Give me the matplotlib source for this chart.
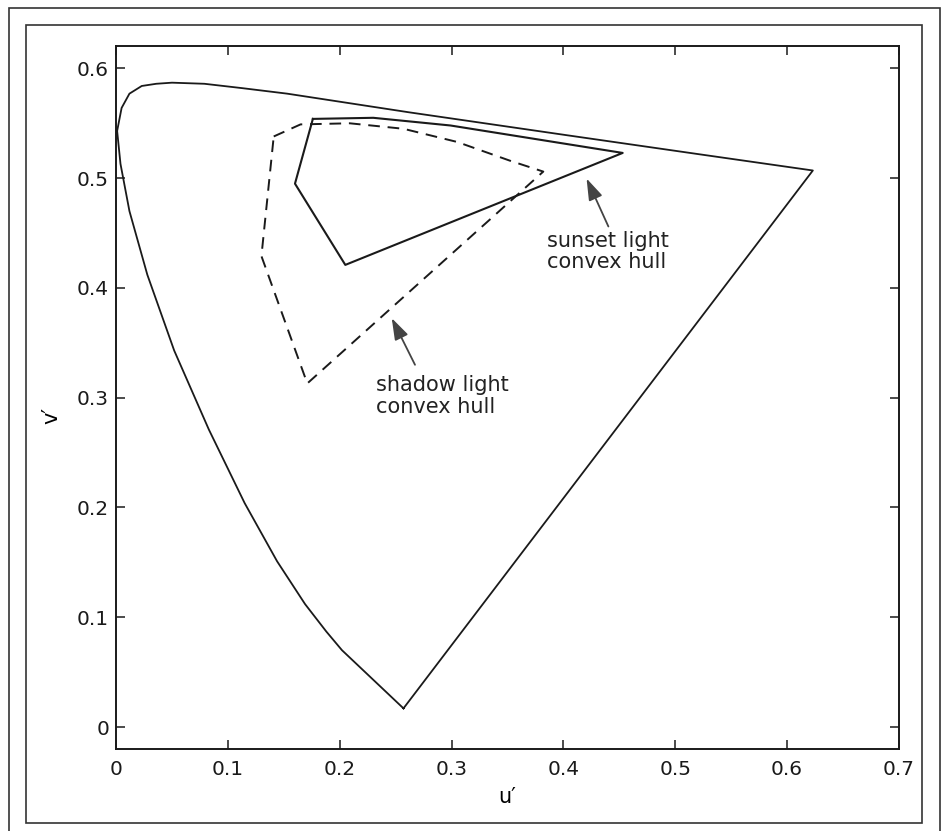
import matplotlib
matplotlib.use("Agg")
import matplotlib.pyplot as plt
from matplotlib.patches import Rectangle

# spectral locus (u', v'), blue end -> red end
locus_u = [0.257, 0.202, 0.188, 0.169, 0.144, 0.115, 0.083, 0.052, 0.028, 0.012,
           0.004, 0.001, 0.005, 0.012, 0.023, 0.036, 0.050, 0.079, 0.113, 0.153,
           0.262, 0.404, 0.520, 0.623]
locus_v = [0.017, 0.070, 0.087, 0.112, 0.151, 0.204, 0.271, 0.343, 0.412, 0.470,
           0.513, 0.543, 0.564, 0.577, 0.584, 0.586, 0.587, 0.586, 0.582, 0.577,
           0.560, 0.539, 0.522, 0.507]

# sunset light convex hull (solid)
sunset_u = [0.176, 0.230, 0.299, 0.453, 0.205, 0.160]
sunset_v = [0.554, 0.555, 0.548, 0.523, 0.421, 0.495]

# shadow light convex hull (dashed)
shadow_u = [0.141, 0.165, 0.209, 0.257, 0.305, 0.352, 0.382, 0.171, 0.130]
shadow_v = [0.538, 0.549, 0.550, 0.545, 0.533, 0.516, 0.506, 0.313, 0.429]

xticks = [0, 0.1, 0.2, 0.3, 0.4, 0.5, 0.6, 0.7]
yticks = [0, 0.1, 0.2, 0.3, 0.4, 0.5, 0.6]


def closed(xs, ys):
    return xs + xs[:1], ys + ys[:1]


fig = plt.figure(figsize=(9.44, 8.31), dpi=100)
ax = fig.add_axes([0.1229, 0.0987, 0.8294, 0.8454])

lu, lv = closed(locus_u, locus_v)
ax.plot(lu, lv, color="#1a1a1a", lw=1.3)

su, sv = closed(sunset_u, sunset_v)
ax.plot(su, sv, color="#1a1a1a", lw=1.5)

hu, hv = closed(shadow_u, shadow_v)
ax.plot(hu, hv, color="#1a1a1a", lw=1.4, dashes=[6, 4])

arrow = dict(arrowstyle="-|>,head_length=0.6,head_width=0.2", color="#444444",
             lw=1.3, mutation_scale=22, shrinkA=0, shrinkB=0)
ax.annotate("", xy=(0.4207, 0.4997), xytext=(0.4402, 0.456), arrowprops=arrow)
ax.annotate("", xy=(0.2465, 0.3725), xytext=(0.2673, 0.330), arrowprops=arrow)

ax.text(0.385, 0.4332, "sunset light\nconvex hull", fontsize=15, ha="left",
        va="center", linespacing=1.1, color="#222222")
ax.text(0.2324, 0.3014, "shadow light\nconvex hull", fontsize=15, ha="left",
        va="center", linespacing=1.1, color="#222222")

ax.set_xlim(0, 0.7)
ax.set_ylim(-0.02, 0.62)
ax.set_xticks(xticks)
ax.set_yticks(yticks)
ax.set_xticklabels(["0" if t == 0 else f"{t:.1f}" for t in xticks])
ax.set_yticklabels(["0" if t == 0 else f"{t:.1f}" for t in yticks])
ax.tick_params(axis="both", direction="in", top=True, right=True, length=6.5,
               width=1.1, labelsize=14.5, colors="#1a1a1a")
ax.tick_params(axis="x", pad=8)
ax.tick_params(axis="y", pad=5)
for sp in ax.spines.values():
    sp.set_linewidth(1.4)
    sp.set_color("#1a1a1a")

ax.set_xlabel("u\u2032", fontsize=15)
ax.xaxis.set_label_coords(0.5, -0.068)
ax.xaxis.label.set_verticalalignment("center")
ax.set_ylabel("v\u2032", fontsize=15)
ax.yaxis.set_label_coords(-0.082, 0.475)
ax.yaxis.label.set_verticalalignment("center")

# page frames around the figure
fig.patches.append(Rectangle((26 / 944, 8 / 831), 896 / 944, 798 / 831,
                             transform=fig.transFigure, fill=False,
                             lw=1.2, ec="#333333"))
fig.patches.append(Rectangle((9 / 944, -0.02), 931 / 944, 823 / 831 + 0.02,
                             transform=fig.transFigure, fill=False,
                             lw=1.2, ec="#333333"))

fig.savefig("out.png", dpi=100)
